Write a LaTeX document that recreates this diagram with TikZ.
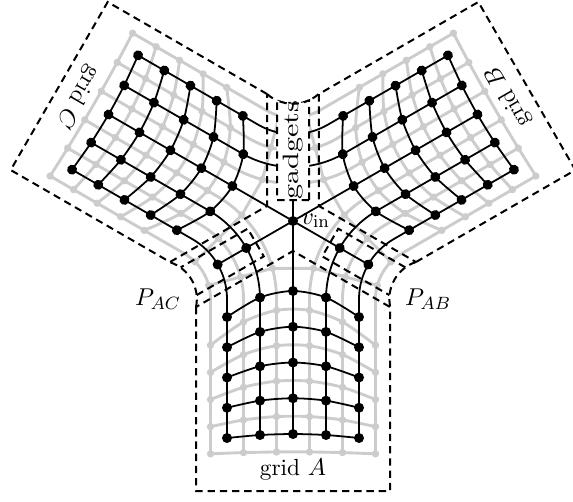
\documentclass[tikz,border=0pt]{standalone}
\usetikzlibrary{calc}
\newcommand\GreyArm{%
  \foreach \uu in {-2.5,-1.5,-0.5}{
    \draw[gry] ({33*\uu},{-sv(4.5,\uu)}) -- ({33*\uu},-78) arc[start angle=0,end angle=30,radius={135+33*\uu}];}
  \foreach \uu in {0.5,1.5,2.5}{
    \draw[gry] ({33*\uu},{-sv(4.5,\uu)}) -- ({33*\uu},-78) arc[start angle=180,end angle=150,radius={135-33*\uu}];}
  \foreach \kk in {0.5,1.5,2.5,3.5,4.5}{
    \draw[gry] plot[smooth,variable=\uu,samples at={-2.5,-1.5,-0.5,0.5,1.5,2.5}] ({33*\uu},{-sv(\kk,\uu)});}
  \draw[gry] (-84.3,-64.4) -- (-20.5,-47.3) -- (20.5,-47.3) -- (84.3,-64.4);
  \foreach \kk in {0.5,1.5,2.5,3.5,4.5}{
    \foreach \uu in {-2.5,-1.5,-0.5,0.5,1.5,2.5}{
      \fill[black!20] ({33*\uu},{-sv(\kk,\uu)}) circle[radius=3.7];}}
  \foreach \p in {(-84.3,-64.4),(-52.4,-55.9),(-20.5,-47.3),(20.5,-47.3),(52.4,-55.9),(84.3,-64.4)}
    \fill[black!20] \p circle[radius=3.7];
}
\newcommand\BlackArm{%
  \draw[blk] (0,0) -- (0,{-sv(4,0)});
  \foreach \uu in {-2,-1}{
    \draw[blk] ({33*\uu},{-sv(4,\uu)}) -- ({33*\uu},-78) arc[start angle=0,end angle=30,radius={135+33*\uu}];}
  \foreach \uu in {1,2}{
    \draw[blk] ({33*\uu},{-sv(4,\uu)}) -- ({33*\uu},-78) arc[start angle=180,end angle=150,radius={135-33*\uu}];}
  \foreach \kk in {0,...,4}{
    \draw[blk] plot[smooth,variable=\uu,samples at={-2,-1,0,1,2}] ({33*\uu},{-sv(\kk,\uu)});}
  \draw[blk] (0,0) -- (210:87);
}
\newcommand\BlackDots{%
  \foreach \kk in {0,...,4}{\foreach \uu in {-2,...,2}{\fill ({33*\uu},{-sv(\kk,\uu)}) circle[radius=5];}}
  \fill (210:54) circle[radius=5];
  \fill (210:87) circle[radius=5];
}
\begin{document}
\begin{tikzpicture}[x=0.45pt,y=0.45pt,
  declare function={sv(\p,\q)=70+35.75*\p+(26-5.5*\p)*(\q)*(\q)/4;},
  blk/.style={line width=0.8pt,black},
  gry/.style={line width=1.3pt,black!20},
  dsh/.style={line width=0.9pt,dash pattern=on 3.3pt off 2.2pt}]
\useasboundingbox (-293,-280) rectangle (280,221);
\foreach \r in {0,120,240}{\begin{scope}[rotate=\r]\GreyArm\end{scope}}
\foreach \r in {0,120,240}{\begin{scope}[rotate=\r]\BlackArm\end{scope}}
\foreach \r in {0,120,240}{\begin{scope}[rotate=\r]\BlackDots\end{scope}}
\fill (0,0) circle[radius=5];
% grid regions
\foreach \r/\nm in {0/A,120/B,240/C}{\begin{scope}[rotate=\r]
  \draw[dsh] (-97,-86) -- (-97,-270) -- (97,-270) -- (97,-86) -- (0,-30) -- cycle;
  \node[transform shape,font=\fontsize{10.5}{12}\selectfont] (lab\nm) at (0,-249) {grid $\nm$};
  \draw[dsh] (-97,-86) arc[start angle=-11.7,end angle=71.7,radius=38.8];
\end{scope}}
% path regions
\foreach \r in {0,120}{\begin{scope}[rotate=\r]
  \draw[dsh] ($(210:120.4)+(300:16)$) -- ($(210:43)+(300:16)$) -- ($(210:43)+(120:16)$) -- ($(210:120.4)+(120:16)$);
\end{scope}}
% gadgets
\draw[dsh,fill=white] (16,21) -- (-16,21) -- (-16,120.65) arc[start angle=245.65,end angle=294.35,radius=38.8] -- cycle;
\node[rotate=90] (gad) at (0,71) {\scalebox{1.36}[1]{gadgets}};
\node[font=\fontsize{11.2}{13}\selectfont] (pac) at (-135,-78) {$P_{AC}$};
\node[font=\fontsize{11.2}{13}\selectfont] (pab) at (135,-78) {$P_{AB}$};
\node[anchor=base west,inner sep=0pt,font=\fontsize{11.2}{13}\selectfont] (vin) at (8,-3) {$v_{\mathrm{in}}$};
\end{tikzpicture}
\end{document}
